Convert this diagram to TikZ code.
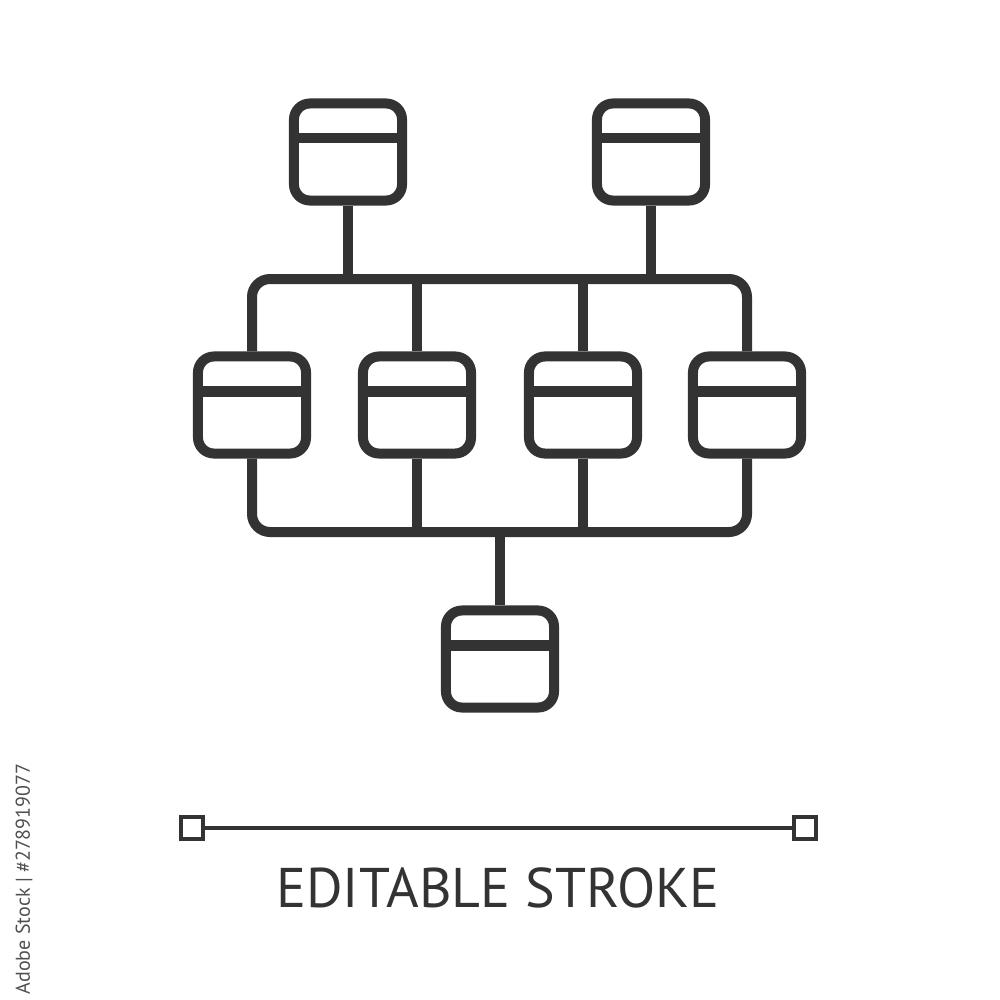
\documentclass[tikz,border=0pt]{standalone}
\usepackage{fontspec}
\setmainfont{PT Sans}
\definecolor{ink}{RGB}{51,51,51}
\definecolor{mark}{RGB}{80,80,80}
\tikzset{
  dbbox/.style={draw=ink, line width=0.1cm, rounded corners=0.16cm,
    minimum width=1.08cm, minimum height=0.97cm, inner sep=0pt,
    path picture={\draw[ink, line width=0.1cm]
      ([yshift=-0.35cm]path picture bounding box.north west) --
      ([yshift=-0.35cm]path picture bounding box.north east);}},
  link/.style={draw=ink, line width=0.1cm},
  handle/.style={draw=ink, line width=0.04cm, minimum size=0.22cm, inner sep=0pt}
}
\begin{document}
\begin{tikzpicture}[x=0.01cm, y=-0.01cm]
  \useasboundingbox (0,0) rectangle (1000,1000);
  % tables
  \node[dbbox] (top1) at (348,152) {};
  \node[dbbox] (top2) at (651,152) {};
  \node[dbbox] (mid1) at (252,405) {};
  \node[dbbox] (mid2) at (417,405) {};
  \node[dbbox] (mid3) at (583,405) {};
  \node[dbbox] (mid4) at (747,405) {};
  \node[dbbox] (low) at (500,659) {};
  \coordinate (upbus) at (500,279);
  \coordinate (downbus) at (500,532);
  % buses
  \draw[link, rounded corners=0.18cm] (mid1.north) |- (upbus) -| (mid4.north);
  \draw[link, rounded corners=0.18cm] (mid1.south) |- (downbus) -| (mid4.south);
  \draw[link] (top1.south) -- (top1.south |- upbus);
  \draw[link] (top2.south) -- (top2.south |- upbus);
  \draw[link] (mid2.north) -- (mid2.north |- upbus);
  \draw[link] (mid3.north) -- (mid3.north |- upbus);
  \draw[link] (mid2.south) -- (mid2.south |- downbus);
  \draw[link] (mid3.south) -- (mid3.south |- downbus);
  \draw[link] (low.north) -- (downbus);
  % editable stroke
  \node[handle] (hleft) at (192,828) {};
  \node[handle] (hright) at (805,828) {};
  \draw[ink, line width=0.04cm] (hleft) -- (hright);
  \node[anchor=base, text=ink, font=\fontsize{15.9}{18}\selectfont, inner sep=0pt]
    (caption) at (498,907) {EDITABLE STROKE};
  \node[rotate=90, text=mark, font=\fontsize{5.7}{7}\selectfont, inner sep=0pt]
    (stockid) at (24,879) {Adobe Stock | \#278919077};
\end{tikzpicture}
\end{document}
